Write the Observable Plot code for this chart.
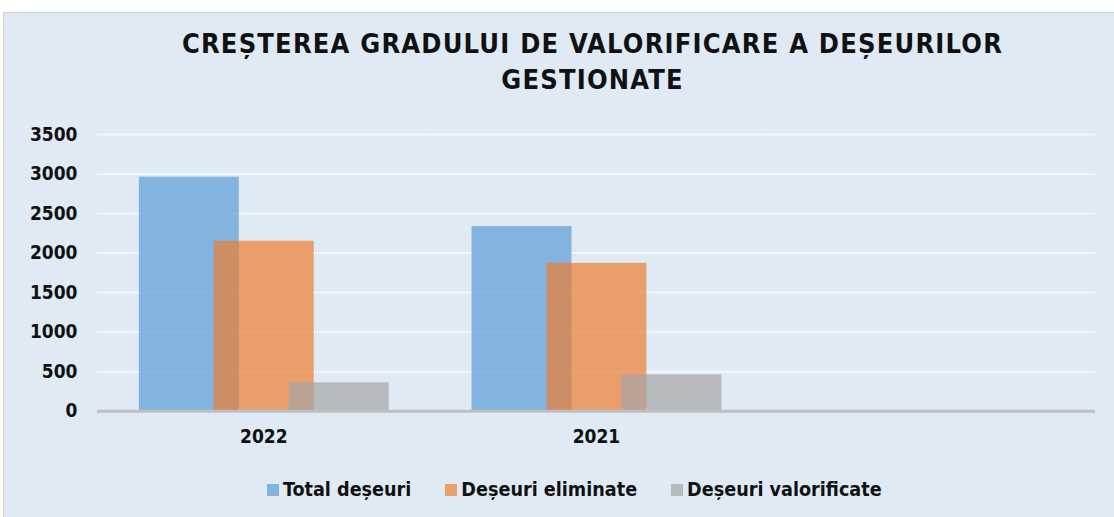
<!DOCTYPE html>
<html>
<head>
<meta charset="utf-8">
<script src="https://cdn.jsdelivr.net/npm/d3@7"></script>
<script src="https://cdn.jsdelivr.net/npm/@observablehq/plot@0.6"></script>
<style>
  html, body { margin: 0; padding: 0; background: #ffffff; }
  body { width: 1114px; height: 517px; overflow: hidden; position: relative; }
  #panel {
    position: absolute; left: 3px; top: 12px; width: 1111px; height: 505px;
    background: #dfeaf5; border-top: 1px solid #d0d0d0; border-left: 1px solid #d0d0d0;
    box-sizing: border-box;
    font-family: "Liberation Sans Narrow", "DejaVu Sans Condensed", sans-serif;
  }
  #title {
    position: absolute; left: 66px; width: 1045px; top: 13px; text-align: center;
    font-weight: bold; font-size: 27px; line-height: 36px; letter-spacing: 1.2px; color: #111;
    white-space: nowrap;
  }
  #chart { position: absolute; left: -1px; top: 94px; }
  #legend {
    position: absolute; left: 263px; top: 465px; white-space: nowrap;
    font-weight: bold; font-size: 19.6px; color: #111;
  }
  #legend span.item { display: inline-block; margin-right: 34px; }
  #legend span.sw { display: inline-block; width: 12px; height: 12px; margin-right: 4px; vertical-align: 0px; }
</style>
</head>
<body>
<div id="panel">
  <div id="title">CREȘTEREA GRADULUI DE VALORIFICARE A DEȘEURILOR<br>GESTIONATE</div>
  <div id="chart"></div>
  <div id="legend"></div>
</div>
<script>
const categories = ["2022", "2021", " "];
const seriesNames = ["Total deșeuri", "Deșeuri eliminate", "Deșeuri valorificate"];
const totalDeseuri = [2960, 2335];
const deseuriEliminate = [2150, 1870];
const deseuriValorificate = [360, 460];
const yTicks = [0, 500, 1000, 1500, 2000, 2500, 3000, 3500];
const colors = ["#5B9BD5", "#ED7D31", "#A5A5A5"];

const seriesValues = [totalDeseuri, deseuriEliminate, deseuriValorificate];
const rows = [];
seriesValues.forEach((vals, s) => {
  vals.forEach((v, i) => rows.push({year: categories[i], series: seriesNames[s], value: v}));
});
// gridlines repeated in every category panel (including the empty one)
const grid = categories.flatMap(c => yTicks.map(t => ({year: c, tick: t})));

const chart = Plot.plot({
  width: 1112,
  height: 344,
  marginLeft: 93,
  marginRight: 19,
  marginTop: 27,
  marginBottom: 40,
  style: {background: "transparent", fontFamily: "'Liberation Sans Narrow', 'DejaVu Sans Condensed', sans-serif"},
  fx: {domain: categories, padding: 0, label: null},
  x: {domain: seriesNames, paddingInner: -0.329, paddingOuter: 0.528, axis: null},
  y: {domain: [0, 3500], label: null},
  color: {domain: seriesNames, range: colors},
  marks: [
    Plot.ruleY(grid.filter(d => d.tick > 0), {fx: "year", y: "tick", stroke: "#f2f6fb", strokeWidth: 2}),
    Plot.barY(rows, {fx: "year", x: "series", y: "value", fill: "series", fillOpacity: 0.7, inset: 0}),
    Plot.ruleY(grid.filter(d => d.tick === 0), {fx: "year", y: "tick", stroke: "#bfbfbf", strokeWidth: 3}),
    Plot.axisY({ticks: yTicks, tickFormat: "d", tickSize: 0, tickPadding: 20, fontSize: 19, fontWeight: "bold", fill: "#111", label: null}),
    Plot.axisFx({anchor: "bottom", tickSize: 0, tickPadding: 18, fontSize: 19, fontWeight: "bold", fill: "#111", label: null})
  ]
});
document.getElementById("chart").appendChild(chart);

const legend = document.getElementById("legend");
seriesNames.forEach((name, i) => {
  const item = document.createElement("span");
  item.className = "item";
  const sw = document.createElement("span");
  sw.className = "sw";
  sw.style.background = colors[i];
  sw.style.opacity = 0.7;
  item.appendChild(sw);
  item.appendChild(document.createTextNode(name));
  legend.appendChild(item);
});
</script>
</body>
</html>
